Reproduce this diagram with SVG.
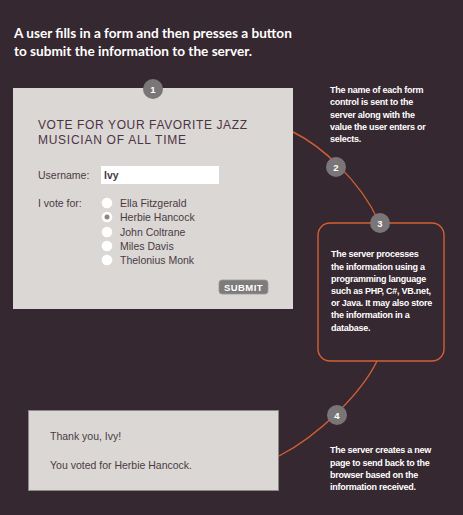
<svg xmlns="http://www.w3.org/2000/svg" width="463" height="515" viewBox="0 0 463 515">
<style>
.title{font-family:Lato,"Liberation Sans",sans-serif;font-weight:bold;font-size:13.6px;fill:#ffffff}
.ftitle{font-family:"Liberation Sans",Arial,sans-serif;font-size:12px;fill:#4c3445}
.lbl{font-family:"Liberation Sans",Arial,sans-serif;font-size:10.5px;fill:#4a3a45}
.note{font-family:"Liberation Sans",Arial,sans-serif;font-weight:bold;font-size:9px;fill:#ffffff;letter-spacing:-0.25px}
.num{font-family:"Liberation Sans",Arial,sans-serif;font-weight:bold;font-size:9.5px;fill:#ffffff;text-anchor:middle}
.badge{fill:#7a7677}
.panel{fill:#dbd7d4}
.radio{fill:#ffffff}
.link{fill:none;stroke:#d35f33;stroke-width:1.4}
</style>
<rect x="0" y="0" width="463" height="515" fill="#362830"/>
<g id="title">
<text class="title" x="14" y="38">A user fills in a form and then presses a button</text>
<text class="title" x="14" y="56">to submit the information to the server.</text>
</g>
<g id="connectors">
<path class="link" d="M293,132 C320,145 360,180 379,222"/>
<path class="link" d="M377,361 C362,392 320,435 279,456"/>
</g>
<g id="form">
<rect class="panel" x="13" y="88" width="280" height="221"/>
<text class="ftitle" x="38" y="129" textLength="209" lengthAdjust="spacing">VOTE FOR YOUR FAVORITE JAZZ</text>
<text class="ftitle" x="38" y="144" textLength="148" lengthAdjust="spacing">MUSICIAN OF ALL TIME</text>
<text class="lbl" x="38" y="179">Username:</text>
<rect x="101" y="166" width="118" height="18" fill="#ffffff"/>
<text class="lbl" x="104" y="179" font-weight="bold">Ivy</text>
<text class="lbl" x="38" y="207">I vote for:</text>
<circle class="radio" cx="107" cy="203" r="5.3"/>
<circle class="radio" cx="107" cy="217" r="5.3"/>
<circle cx="107" cy="217" r="2.5" fill="#8a8688"/>
<circle class="radio" cx="107" cy="232" r="5.3"/>
<circle class="radio" cx="107" cy="246" r="5.3"/>
<circle class="radio" cx="107" cy="260" r="5.3"/>
<text class="lbl" x="120" y="207">Ella Fitzgerald</text>
<text class="lbl" x="120" y="221">Herbie Hancock</text>
<text class="lbl" x="120" y="236">John Coltrane</text>
<text class="lbl" x="120" y="250">Miles Davis</text>
<text class="lbl" x="120" y="264">Thelonius Monk</text>
<rect x="219" y="280" width="49" height="14" rx="3" fill="#7d7b7b" stroke="#9a9898" stroke-width="0.8"/>
<text class="num" x="243.5" y="291" font-size="9.5" letter-spacing="0.4">SUBMIT</text>
<circle class="badge" cx="153" cy="89" r="10"/>
<text class="num" x="153" y="92.5">1</text>
</g>
<g id="note2">
<text class="note" x="330" y="93">The name of each form</text>
<text class="note" x="330" y="105.3">control is sent to the</text>
<text class="note" x="330" y="117.6">server along with the</text>
<text class="note" x="330" y="129.9">value the user enters or</text>
<text class="note" x="330" y="142.2">selects.</text>
<circle class="badge" cx="336" cy="167" r="10"/>
<text class="num" x="336" y="170.5">2</text>
</g>
<g id="server">
<rect x="318" y="223" width="126" height="138" rx="12" fill="none" stroke="#d35f33" stroke-width="1.4"/>
<circle class="badge" cx="380" cy="223" r="10"/>
<text class="num" x="380" y="226.5">3</text>
<text class="note" x="331" y="257.3">The server processes</text>
<text class="note" x="331" y="269.5">the information using a</text>
<text class="note" x="331" y="281.7">programming language</text>
<text class="note" x="331" y="293.9">such as PHP, C#, VB.net,</text>
<text class="note" x="331" y="306.1">or Java. It may also store</text>
<text class="note" x="331" y="318.3">the information in a</text>
<text class="note" x="331" y="330.5">database.</text>
</g>
<g id="result">
<rect class="panel" x="28.5" y="410.5" width="250" height="80" stroke="#8c8886" stroke-width="1"/>
<text class="lbl" x="50" y="440">Thank you, Ivy!</text>
<text class="lbl" x="50" y="469">You voted for Herbie Hancock.</text>
</g>
<g id="note4">
<circle class="badge" cx="337" cy="415" r="10"/>
<text class="num" x="337" y="418.5">4</text>
<text class="note" x="330" y="453.3">The server creates a new</text>
<text class="note" x="330" y="465.5">page to send back to the</text>
<text class="note" x="330" y="477.7">browser based on the</text>
<text class="note" x="330" y="489.9">information received.</text>
</g>
</svg>
